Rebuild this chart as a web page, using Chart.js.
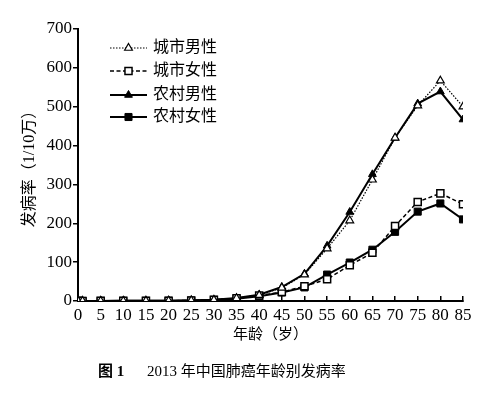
<!DOCTYPE html>
<html>
<head>
<meta charset="utf-8">
<script src="https://cdn.jsdelivr.net/npm/chart.js@4/dist/chart.umd.min.js"></script>
<style>
  html, body { margin: 0; padding: 0; background: #fff; }
  #wrap { width: 498px; height: 398px; }
</style>
</head>
<body>
<div id="wrap"><canvas id="myChart" width="498" height="398"></canvas></div>
<script>
const ages = [0, 1, 5, 10, 15, 20, 25, 30, 35, 40, 45, 50, 55, 60, 65, 70, 75, 80, 85];
const urbanMale   = [0.5, 0.3, 0.3, 0.4, 0.6, 0.8, 1.5, 3, 7, 15, 34, 68, 135, 207, 312, 420, 503, 567, 500];
const urbanFemale = [0.4, 0.2, 0.3, 0.4, 0.5, 0.7, 1.5, 3, 7, 14, 23, 38, 56, 92, 124, 193, 255, 277, 249];
const ruralMale   = [0.5, 0.3, 0.3, 0.4, 0.6, 0.8, 1.5, 3, 8, 16, 36, 70, 142, 229, 326, 420, 508, 539, 467];
const ruralFemale = [0.4, 0.2, 0.3, 0.4, 0.5, 0.7, 1.5, 3, 6, 12, 22, 35, 68, 99, 132, 178, 230, 251, 210];
const seriesNames = ['城市男性', '城市女性', '农村男性', '农村女性'];
const xTitle = '年龄（岁）';
const yTitle = '发病率（1/10万）';
const captionBold = '图 1';
const captionText = '2013 年中国肺癌年龄别发病率';

const serif = '"Liberation Serif", "Noto Sans CJK SC", serif';

function toPoints(vals) {
    return ages.map((a, i) => ({ x: a, y: vals[i] }));
}

const data = {
    datasets: [
        {
            label: seriesNames[0],
            data: toPoints(urbanMale),
            borderColor: '#000',
            borderWidth: 1.2,
            borderDash: [1.5, 1.5],
            pointStyle: 'triangle',
            pointRadius: 4.5,
            pointBorderWidth: 1.2,
            pointBackgroundColor: '#fff',
            pointBorderColor: '#000'
        },
        {
            label: seriesNames[1],
            data: toPoints(urbanFemale),
            borderColor: '#000',
            borderWidth: 1.5,
            borderDash: [4, 2.5],
            pointStyle: 'rect',
            pointRadius: 5,
            pointBorderWidth: 1.5,
            pointBackgroundColor: '#fff',
            pointBorderColor: '#000'
        },
        {
            label: seriesNames[2],
            data: toPoints(ruralMale),
            borderColor: '#000',
            borderWidth: 2,
            pointStyle: 'triangle',
            pointRadius: 4.5,
            pointBorderWidth: 1,
            pointBackgroundColor: '#000',
            pointBorderColor: '#000'
        },
        {
            label: seriesNames[3],
            data: toPoints(ruralFemale),
            borderColor: '#000',
            borderWidth: 2,
            pointStyle: 'rect',
            pointRadius: 5,
            pointBorderWidth: 1,
            pointBackgroundColor: '#000',
            pointBorderColor: '#000'
        }
    ]
};

// legend inside the plot, line + marker like the printed figure
const insideLegend = {
    id: 'insideLegend',
    afterDatasetsDraw(chart) {
        const ctx = chart.ctx;
        const area = chart.chartArea;
        const x0 = area.left + 32;
        const x1 = area.left + 69;
        const rows = [19, 42, 66, 88];
        ctx.save();
        chart.data.datasets.forEach((ds, i) => {
            const y = area.top + rows[i];
            ctx.beginPath();
            ctx.strokeStyle = ds.borderColor;
            ctx.lineWidth = ds.borderWidth;
            ctx.setLineDash(ds.borderDash || []);
            ctx.moveTo(x0, y);
            ctx.lineTo(x1, y);
            ctx.stroke();
            ctx.setLineDash([]);
            ctx.fillStyle = ds.pointBackgroundColor;
            ctx.strokeStyle = ds.pointBorderColor;
            ctx.lineWidth = ds.pointBorderWidth;
            Chart.helpers.drawPoint(ctx, { pointStyle: ds.pointStyle, radius: ds.pointRadius, borderWidth: ds.pointBorderWidth }, (x0 + x1) / 2, y);
            ctx.fillStyle = '#000';
            ctx.font = '16px ' + serif;
            ctx.textBaseline = 'middle';
            ctx.textAlign = 'left';
            ctx.fillText(ds.label, x1 + 6, y);
        });
        ctx.restore();
    }
};

const caption = {
    id: 'caption',
    afterDraw(chart) {
        const ctx = chart.ctx;
        ctx.save();
        ctx.fillStyle = '#000';
        ctx.textBaseline = 'middle';
        ctx.textAlign = 'left';
        ctx.font = 'bold 15px ' + serif;
        ctx.fillText(captionBold, 98, 372);
        ctx.font = '15px ' + serif;
        ctx.fillText(captionText, 147, 372);
        ctx.restore();
    }
};

const config = {
    type: 'line',
    data: data,
    plugins: [insideLegend, caption],
    options: {
        responsive: false,
        animation: false,
        layout: { padding: { left: 0, right: 35, top: 29, bottom: 47 } },
        plugins: {
            legend: { display: false },
            tooltip: { enabled: false }
        },
        scales: {
            x: {
                type: 'linear',
                min: 0,
                max: 85,
                afterFit(scale) { scale.height = 50; },
                border: { color: '#000', width: 2 },
                grid: { drawOnChartArea: false, color: '#000', lineWidth: 1.5, tickLength: -5 },
                ticks: {
                    stepSize: 5,
                    color: '#000',
                    padding: 9,
                    maxRotation: 0,
                    autoSkip: false,
                    font: { family: serif, size: 17 }
                },
                title: {
                    display: true,
                    text: xTitle,
                    color: '#000',
                    padding: { top: 0, bottom: 7 },
                    font: { family: serif, size: 15 }
                }
            },
            y: {
                min: 0,
                max: 700,
                afterFit(scale) { scale.width = 78; },
                border: { color: '#000', width: 2 },
                grid: { drawOnChartArea: false, color: '#000', lineWidth: 1.5, tickLength: 5 },
                ticks: {
                    stepSize: 100,
                    color: '#000',
                    padding: 1,
                    font: { family: serif, size: 17 }
                },
                title: {
                    display: true,
                    text: yTitle,
                    color: '#000',
                    padding: { top: 20, bottom: 0 },
                    font: { family: serif, size: 16 }
                }
            }
        }
    }
};

new Chart(document.getElementById('myChart'), config);
</script>
</body>
</html>
